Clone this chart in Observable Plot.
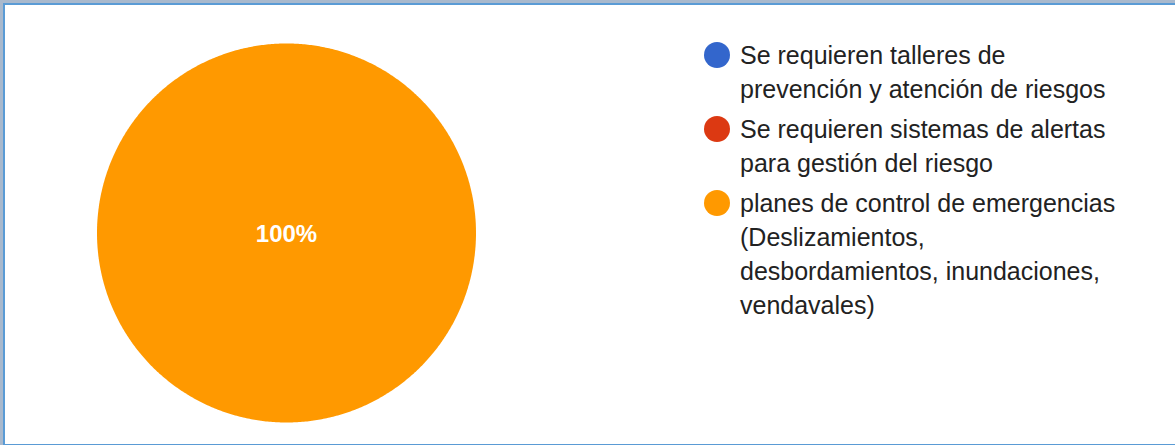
<!DOCTYPE html>
<html>
<head>
<meta charset="utf-8">
<script src="https://cdn.jsdelivr.net/npm/d3@7"></script>
<script src="https://cdn.jsdelivr.net/npm/@observablehq/plot@0.6"></script>
<style>
  html, body { margin: 0; padding: 0; background: #fff; }
  #frame { position: absolute; left: 0; top: 0; width: 1175px; height: 445px; background: #a9b9cd; overflow: hidden; }
  #inner { position: absolute; left: 3px; top: 3px; width: 1172px; height: 439px; background: #fff;
           border-left: 2px solid #5a9bd5; border-top: 2px solid #5a9bd5; border-bottom: 2px solid #5a9bd5; }
  #chart { position: absolute; left: 0; top: 0; }
  #legend { position: absolute; left: 704px; top: 38px; margin: 0; padding: 0; list-style: none;
            font-family: "Liberation Sans", Arial, sans-serif; font-size: 25px; color: #222; }
  #legend li { display: flex; align-items: flex-start; margin-bottom: 6px; line-height: 34px; }
  #legend .dot { width: 26px; height: 26px; border-radius: 50%; margin-top: 4px; margin-right: 10px; flex: none; }
  #legend .lab { white-space: pre-line; }
</style>
</head>
<body>
<div id="frame"><div id="inner"></div></div>
<div id="chart"></div>
<ul id="legend"></ul>
<script>
// Data
const categories = [
  "Se requieren talleres de\nprevención y atención de riesgos",
  "Se requieren sistemas de alertas\npara gestión del riesgo",
  "planes de control de emergencias\n(Deslizamientos,\ndesbordamientos, inundaciones,\nvendavales)"
];
const values = [0, 0, 100];
const colors = ["#3366cc", "#dc3912", "#ff9900"];

const total = d3.sum(values);
const arcs = d3.pie().sort(null).value((d, i) => values[i])(categories);

// Build slice polygons in unit-circle coordinates (angle 0 at top, clockwise)
const pts = [];
const labels = [];
arcs.forEach((a, i) => {
  if (a.endAngle - a.startAngle <= 0) return;
  const full = a.endAngle - a.startAngle >= 2 * Math.PI - 1e-9;
  const n = Math.max(4, Math.ceil((a.endAngle - a.startAngle) / (2 * Math.PI) * 720));
  if (!full) pts.push({cat: categories[i], x: 0, y: 0});
  for (let k = 0; k <= n; k++) {
    const t = a.startAngle + (a.endAngle - a.startAngle) * k / n;
    pts.push({cat: categories[i], x: Math.sin(t), y: Math.cos(t)});
  }
  const frac = values[i] / total;
  const mid = (a.startAngle + a.endAngle) / 2;
  const rr = full ? 0 : 0.6;
  labels.push({x: rr * Math.sin(mid), y: rr * Math.cos(mid), text: Math.round(frac * 100) + "%"});
});

const cx = 286, cy = 232.5, R = 189.5;
const chart = Plot.plot({
  width: 1175,
  height: 445,
  margin: 0,
  style: {background: "transparent", overflow: "visible"},
  x: {domain: [-1, 1], range: [cx - R, cx + R], axis: null},
  y: {domain: [-1, 1], range: [cy + R, cy - R], axis: null},
  color: {domain: categories, range: colors},
  marks: [
    Plot.line(pts, {x: "x", y: "y", z: "cat", fill: "cat", stroke: "none"}),
    Plot.text(labels, {x: "x", y: "y", text: "text", fill: "white", fontSize: 24, fontWeight: "bold",
      fontFamily: "Liberation Sans, Arial, sans-serif", textAnchor: "middle", dy: 1})
  ]
});
document.getElementById("chart").appendChild(chart);

const ul = document.getElementById("legend");
categories.forEach((c, i) => {
  const li = document.createElement("li");
  const dot = document.createElement("span");
  dot.className = "dot";
  dot.style.background = colors[i];
  const lab = document.createElement("span");
  lab.className = "lab";
  lab.textContent = c;
  li.appendChild(dot);
  li.appendChild(lab);
  ul.appendChild(li);
});
</script>
</body>
</html>
